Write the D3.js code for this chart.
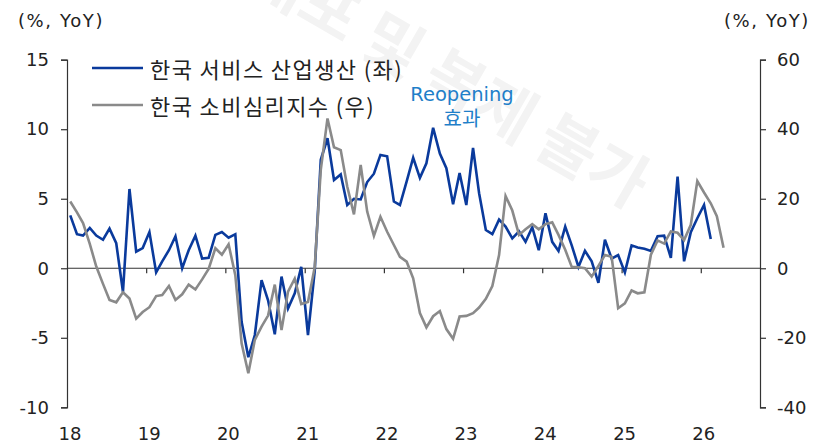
<!DOCTYPE html>
<html>
<head>
<meta charset="utf-8">
<script src="https://cdn.jsdelivr.net/npm/d3@7"></script>
<style>
  body { margin:0; background:#fff; }
  svg text { font-family: "DejaVu Sans", "Noto Sans CJK KR", sans-serif; fill:#222; }
  .kr { font-family: "Noto Sans CJK KR", sans-serif; }
</style>
</head>
<body>
<svg></svg>
<script>
// monthly, starting Jan 2018
var startYear = 2018
// 한국 서비스 산업생산 (좌), % YoY
var serviceProd = [3.8,2.45,2.35,2.9,2.35,2.05,2.85,1.8,-1.7,5.7,1.2,1.45,
  2.6,-0.3,0.5,1.3,2.3,0.0,1.3,2.35,0.7,0.75,2.4,2.6,
  2.2,2.45,-3.85,-6.4,-4.8,-0.85,-2.3,-4.75,-0.6,-2.9,-1.8,0.1,
  -4.8,-0.2,7.8,9.35,6.35,6.75,4.55,5.0,4.95,6.2,6.8,8.15,
  8.05,4.8,4.55,6.25,7.95,6.5,7.55,10.1,8.25,7.2,4.6,6.85,
  4.55,8.65,5.4,2.75,2.45,3.5,3.0,2.15,2.65,1.9,2.95,1.3,
  3.95,1.9,1.25,3.0,1.65,0.1,1.25,0.5,-1.05,2.05,0.7,0.95,
  -0.3,1.65,1.5,1.4,1.25,2.3,2.35,0.75,6.6,0.5,2.6,3.6,
  4.55,2.1]
// 한국 소비심리지수 (우), % YoY
var consumerSent = [19.2,16.1,13.0,7.0,0.5,-4.5,-9.1,-9.8,-6.9,-8.7,-14.5,-12.6,
  -11.2,-8.0,-7.7,-5.1,-9.1,-7.5,-4.7,-6.1,-3.2,-0.2,5.75,3.9,
  6.9,-2.0,-21.6,-30.2,-20.6,-16.8,-13.6,-4.7,-17.8,-6.7,-3.0,-10.3,
  -9.7,0.3,28.3,43.1,34.8,34.0,23.5,15.5,29.7,16.3,9.3,14.8,
  10.5,6.7,3.3,1.9,-2.9,-12.9,-17.0,-13.8,-12.3,-17.5,-20.3,-13.9,
  -13.7,-12.9,-11.3,-8.8,-5.1,3.8,20.8,16.6,9.6,11.2,12.7,11.2,
  12.7,13.2,9.6,5.3,0.4,0.3,0.0,-2.4,0.7,3.8,3.3,-11.5,
  -10.1,-6.4,-7.2,-6.9,3.9,8.0,7.1,10.6,10.2,8.1,12.5,25.1,
  21.8,18.7,15.0,5.9]

var leftTicks = [-10,-5,0,5,10,15]
var rightTicks = [-40,-20,0,20,40,60]
var yearLabels = ["18","19","20","21","22","23","24","25","26"]
var seriesNames = ["한국 서비스 산업생산 (좌)","한국 소비심리지수 (우)"]
var seriesColors = ["#0a3a9c","#8a8a8a"]

var screen = {width:823,height:443}
var plot = {left:67,right:760,top:59.7,bottom:407.3}

var svg = d3.select("svg")
  .attr("width",screen.width)
  .attr("height",screen.height)

// watermark behind everything
svg.append("text")
  .attr("class","kr")
  .text("배포 및 복제 불가")
  .attr("transform","translate(646,186) rotate(30)")
  .attr("text-anchor","end")
  .attr("dominant-baseline","central")
  .style("font-size","63px")
  .style("font-weight","bold")
  .style("fill","#f3f3f3")

var monthDate = function(i) { return new Date(startYear, i, 16) }

var xScale = d3.scaleTime()
  .domain([new Date(startYear,0,1), new Date(2026,9,1)])
  .range([plot.left,plot.right])

var yLeft = d3.scaleLinear()
  .domain([-10,15])
  .range([plot.bottom,plot.top])

var yRight = d3.scaleLinear()
  .domain([-40,60])
  .range([plot.bottom,plot.top])

// plain hyphen for negatives, like the source
var fmt = function(d) { return String(d) }

// axes
var leftAxis = svg.append("g")
  .attr("transform","translate("+plot.left+",0)")
  .call(d3.axisLeft(yLeft).tickValues(leftTicks).tickFormat(fmt).tickSize(6).tickPadding(12))

var rightAxis = svg.append("g")
  .attr("transform","translate("+plot.right+",0)")
  .call(d3.axisRight(yRight).tickValues(rightTicks).tickFormat(fmt).tickSize(6).tickPadding(11))

var years = yearLabels.map(function(d,i){ return new Date(startYear+i,0,1) })

var xAxis = svg.append("g")
  .attr("transform","translate(0,"+yLeft(0)+")")
  .call(d3.axisBottom(xScale).tickValues(years.slice(1)).tickSize(5).tickFormat(""))

;[leftAxis,rightAxis,xAxis].forEach(function(g){
  g.select(".domain").attr("stroke","#333").attr("stroke-width",1.2)
  g.selectAll(".tick line").attr("stroke","#333").attr("stroke-width",1.2)
  g.selectAll(".tick text").style("font-size","18px").attr("fill","#222")
    .style("font-family","DejaVu Sans")
})
xAxis.select(".domain").attr("d","M"+plot.left+",0H"+plot.right)

svg.append("g")
  .selectAll("text")
  .data(yearLabels)
  .enter()
  .append("text")
  .text(function(d){ return d })
  .attr("x",function(d,i){ return xScale(years[i])+3 })
  .attr("y",440)
  .attr("text-anchor","middle")
  .style("font-size","18px")

// unit labels
svg.append("text").text("(%, YoY)").attr("x",18).attr("y",27)
  .style("font-size","18px").style("letter-spacing","1.6px")
svg.append("text").text("(%, YoY)").attr("x",810).attr("y",27)
  .attr("text-anchor","end").style("font-size","18px").style("letter-spacing","1.6px")

// lines
var line = function(scale) {
  return d3.line()
    .x(function(d,i){ return xScale(monthDate(i)) })
    .y(function(d){ return scale(d) })
}

svg.append("path")
  .datum(serviceProd)
  .attr("d",line(yLeft))
  .attr("fill","none")
  .attr("stroke",seriesColors[0])
  .attr("stroke-width",2.6)

svg.append("path")
  .datum(consumerSent)
  .attr("d",line(yRight))
  .attr("fill","none")
  .attr("stroke",seriesColors[1])
  .attr("stroke-width",2.6)

// legend
var legend = svg.append("g")
seriesNames.forEach(function(name,i){
  var y = 68 + i*37
  legend.append("line")
    .attr("x1",92).attr("x2",143).attr("y1",y).attr("y2",y)
    .attr("stroke",seriesColors[i]).attr("stroke-width",2.6)
  legend.append("text")
    .attr("class","kr")
    .text(name)
    .attr("x",150).attr("y",y)
    .attr("dominant-baseline","central")
    .style("font-size","22px")
    .style("letter-spacing","1.4px")
})

// annotation
var note = svg.append("g").attr("transform","translate(462,0)")
note.append("text").text("Reopening").attr("y",101)
  .attr("text-anchor","middle").style("font-size","19.5px").style("fill","#1f7fc9")
note.append("text").attr("class","kr").text("효과").attr("y",126)
  .attr("text-anchor","middle").style("font-size","20px").style("fill","#1f7fc9")
</script>
</body>
</html>
